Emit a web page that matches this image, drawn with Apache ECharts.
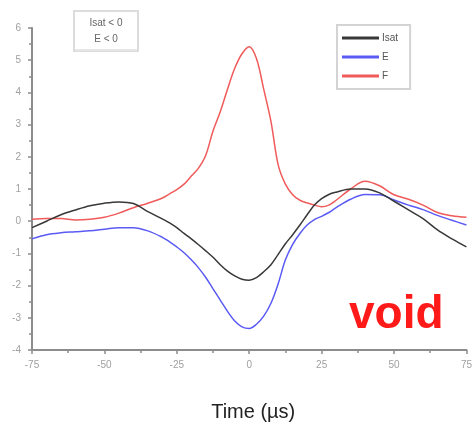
<!DOCTYPE html>
<html>
<head>
<meta charset="utf-8">
<script src="https://cdn.jsdelivr.net/npm/echarts@6/dist/echarts.min.js"></script>
<style>
  html, body { margin: 0; padding: 0; background: #fff; }
  #chart { width: 475px; height: 427px; }
</style>
</head>
<body>
<div id="chart"></div>
<script>
// Time axis (µs)
const times = [-75, -70, -65, -60, -55, -50, -45, -40, -35, -30, -27.5, -25, -22.5, -20, -17.5, -15, -12.5, -10, -7.5, -5, -2.5, 0, 2.5, 5, 7.5, 10, 12.5, 15, 17.5, 20, 22.5, 25, 27.5, 30, 35, 40, 45, 50, 55, 60, 65, 70, 75];

// Ion saturation current (normalised)
const isat = [-0.2, 0.0, 0.2, 0.35, 0.48, 0.56, 0.6, 0.55, 0.3, 0.07, -0.05, -0.2, -0.38, -0.55, -0.73, -0.92, -1.12, -1.35, -1.55, -1.7, -1.8, -1.83, -1.75, -1.57, -1.35, -1.03, -0.7, -0.42, -0.12, 0.2, 0.5, 0.7, 0.83, 0.9, 1.0, 1.0, 0.88, 0.62, 0.35, 0.08, -0.27, -0.55, -0.8];

// Radial electric field E (normalised)
const efield = [-0.55, -0.42, -0.36, -0.33, -0.3, -0.25, -0.2, -0.2, -0.3, -0.5, -0.64, -0.8, -0.98, -1.2, -1.45, -1.75, -2.1, -2.45, -2.8, -3.1, -3.28, -3.33, -3.2, -2.95, -2.55, -1.94, -1.2, -0.72, -0.38, -0.12, 0.05, 0.15, 0.27, 0.42, 0.68, 0.83, 0.82, 0.66, 0.5, 0.36, 0.18, 0.03, -0.12];

// Fluctuation amplitude F (normalised)
const fluct = [0.06, 0.08, 0.08, 0.04, 0.06, 0.12, 0.25, 0.42, 0.56, 0.72, 0.85, 0.98, 1.15, 1.4, 1.65, 2.05, 2.8, 3.4, 4.1, 4.75, 5.2, 5.42, 5.05, 4.1, 3.1, 1.75, 1.15, 0.82, 0.65, 0.57, 0.5, 0.45, 0.5, 0.65, 1.0, 1.24, 1.1, 0.82, 0.68, 0.5, 0.27, 0.17, 0.12];

const xTicks = [-75, -50, -25, 0, 25, 50, 75];
const yTicks = [-4, -3, -2, -1, 0, 1, 2, 3, 4, 5, 6];

const seriesNames = ['Isat', 'E', 'F'];
const seriesColors = ['#383838', '#5a5af5', '#f05a5a'];
const seriesValues = [isat, efield, fluct];

const pair = vals => times.map((t, i) => [t, vals[i]]);

const chart = echarts.init(document.getElementById('chart'), null, { renderer: 'canvas' });

const axisGray = '#8c8c8c';
const labelGray = '#a0a0a0';
const font = 'Liberation Sans, Arial, sans-serif';

chart.setOption({
  animation: false,
  backgroundColor: '#ffffff',
  grid: { left: 32, right: 4, top: 28, bottom: 69, containLabel: false },
  xAxis: {
    type: 'value',
    min: -75, max: 75, interval: 25,
    name: 'Time (µs)',
    nameLocation: 'middle',
    nameGap: 52,
    nameTextStyle: { fontFamily: font, fontSize: 20, color: '#222', padding: [0, 0, 0, 8] },
    axisLine: { show: true, onZero: false, lineStyle: { color: axisGray, width: 2 } },
    axisTick: { show: true, inside: false, length: 4, lineStyle: { color: axisGray, width: 1.5 } },
    minorTick: { show: true, splitNumber: 2, length: 3, lineStyle: { color: axisGray, width: 1.5 } },
    splitLine: { show: false },
    axisLabel: {
      margin: 10, fontSize: 10, color: labelGray, fontFamily: font,
      formatter: v => xTicks.includes(v) ? String(v) : ''
    }
  },
  yAxis: {
    type: 'value',
    min: -4, max: 6, interval: 1,
    axisLine: { show: true, onZero: false, lineStyle: { color: axisGray, width: 2 } },
    axisTick: { show: true, inside: false, length: 4, lineStyle: { color: axisGray, width: 1.5 } },
    minorTick: { show: true, splitNumber: 2, length: 3, lineStyle: { color: axisGray, width: 1.5 } },
    splitLine: { show: false },
    axisLabel: {
      margin: 11, fontSize: 10, color: labelGray, fontFamily: font,
      formatter: v => yTicks.includes(v) ? String(v) : ''
    }
  },
  legend: {
    orient: 'vertical',
    left: 337, top: 25,
    padding: [7, 12, 7, 5],
    itemGap: 7,
    icon: 'rect',
    itemWidth: 37, itemHeight: 3,
    borderColor: '#d4d4d4', borderWidth: 2,
    backgroundColor: '#fff',
    textStyle: { fontSize: 10, lineHeight: 12, color: '#555', fontFamily: font, padding: [0, 0, 0, -2] },
    data: seriesNames
  },
  series: seriesNames.map((name, k) => ({
    name,
    type: 'line',
    smooth: 0.35,
    symbol: 'none',
    data: pair(seriesValues[k]),
    lineStyle: { color: seriesColors[k], width: 1.5 },
    itemStyle: { color: seriesColors[k] },
    z: 3 - k
  })),
  graphic: [
    {
      type: 'group',
      left: 73, top: 10,
      children: [
        { type: 'rect', shape: { x: 0, y: 0, width: 64, height: 40 },
          style: { fill: '#fff', stroke: '#dcdcdc', lineWidth: 2 } },
        { type: 'rect', shape: { x: 1, y: 38, width: 62, height: 2 },
          style: { fill: '#e6e6e6' } },
        { type: 'text', style: { x: 32, y: 12, text: 'Isat < 0', align: 'center', verticalAlign: 'middle',
          fontSize: 10, fill: '#666', fontFamily: font } },
        { type: 'text', style: { x: 32, y: 28, text: 'E < 0', align: 'center', verticalAlign: 'middle',
          fontSize: 10, fill: '#666', fontFamily: font } }
      ]
    },
    {
      type: 'text',
      left: 349, top: 292,
      style: { text: 'void', fontSize: 46, fontWeight: 'bold', fill: '#ff1a1a', fontFamily: font }
    }
  ]
});
</script>
</body>
</html>
